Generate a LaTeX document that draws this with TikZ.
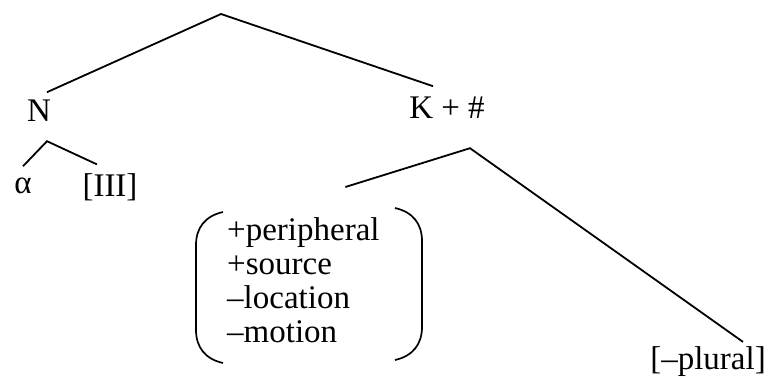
\documentclass[tikz,border=0pt]{standalone}
\usepackage{fontspec}
\setmainfont{Liberation Serif}
\usetikzlibrary{positioning,calc}

\begin{document}
\begin{tikzpicture}[
    x=1pt, y=-1pt,
    every node/.style={font=\fontsize{33}{34}\selectfont, inner sep=0pt},
    lbl/.style={anchor=base},
    branch/.style={line width=1.8pt},
    paren/.style={line width=1.7pt}
]
    \useasboundingbox (0,0) rectangle (770,378);
    \coordinate (top) at (221,14);
    \node[lbl] (N) at (39,121) {N};
    \node[lbl] (K) at (447,118) {K + \#};
    \node[lbl] (alpha) at (23,193) {α};
    \node[lbl] (III) at (110,196) {[III]};
    \node[anchor=north west, align=left] (feat) at (227,217) {+peripheral\\+source\\–location\\–motion};
    \node[lbl] (plural) at (708,369) {[–plural]};
    \coordinate (Nsub) at ([shift={(8,20)}]N.south);
    \coordinate (Ksub) at ([shift={(23,30)}]K.south);

    % top level
    \draw[branch] ([shift={(8,-7)}]N.north) -- (top) -- ([shift={(-14,-10)}]K.north);
    % under N
    \draw[branch] ([shift={(0,-11)}]alpha.north) -- (Nsub) -- ([shift={(-13,-8.5)}]III.north);
    % under K + #
    \draw[branch] ([shift={(42,-30)}]feat.north) -- (Ksub) -- ([shift={(35,-4)}]plural.north);

    % feature bundle
    \draw[paren] (223,212) .. controls (205,216) and (196,228) .. (196,245) -- (196,330) .. controls (196,347) and (205,359) .. (223,363);
    \draw[paren] (395,208) .. controls (413,212) and (422,224) .. (422,241) -- (422,327) .. controls (422,344) and (413,356) .. (395,360);
\end{tikzpicture}
\end{document}
